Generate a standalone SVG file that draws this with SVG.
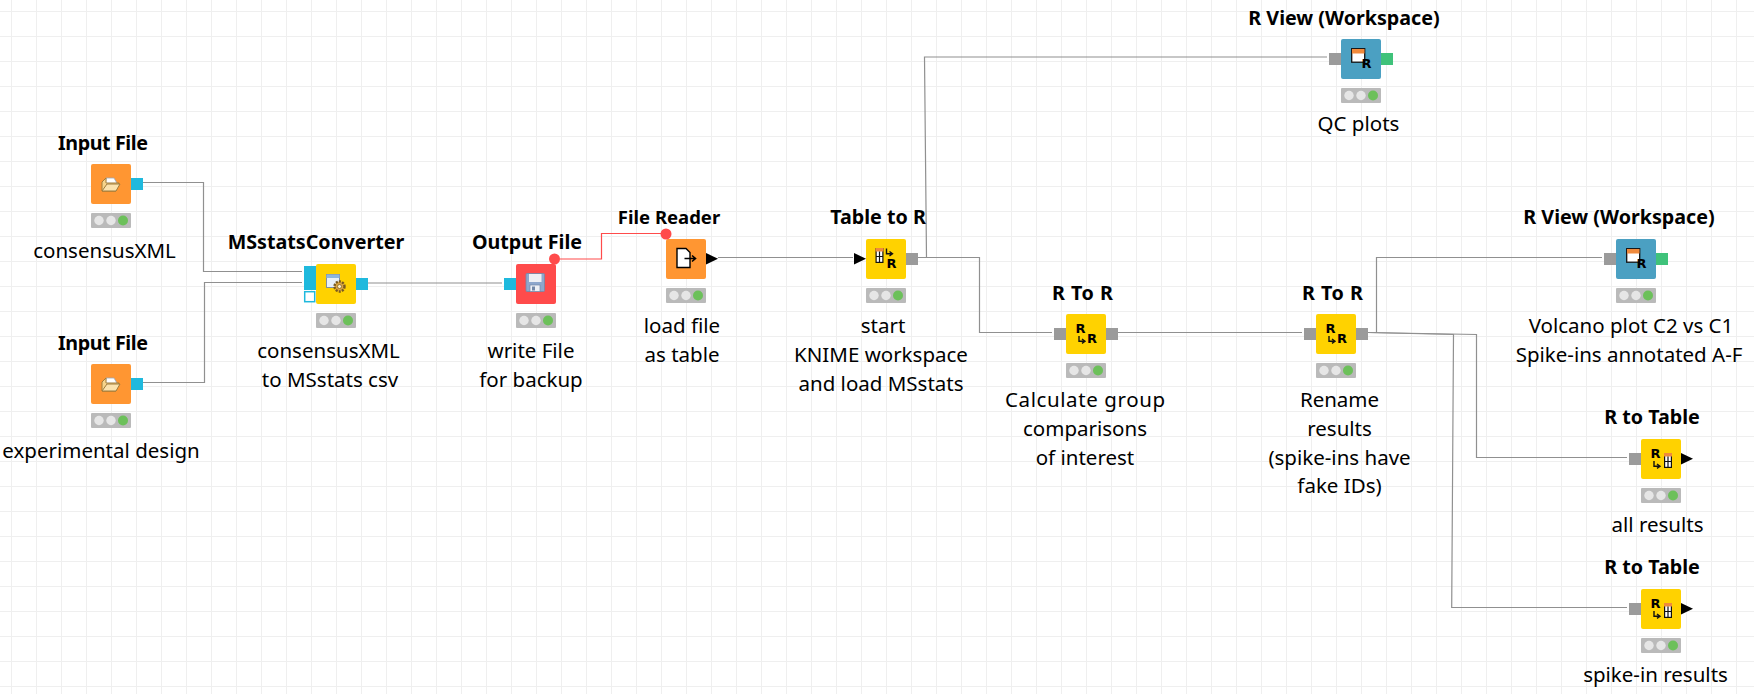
<svg xmlns="http://www.w3.org/2000/svg" width="1754" height="694" viewBox="0 0 1754 694">
<style>
text{font-family:"Noto Sans","Open Sans","Liberation Sans",sans-serif;fill:#000;text-anchor:middle}
.n{font-size:19.700px;font-weight:700}
.d{font-size:20.500px}
text.ic{font-family:"DejaVu Sans",sans-serif;font-size:13px;font-weight:700;text-anchor:start}
.y{fill:#ffd200}.o{fill:#ff9632}.r{fill:#ff4b4b}.b{fill:#4ba0c2}
.pc{fill:#1fb9dd}.pg{fill:#9b9b9b}.pv{fill:#3fc27a}.ph{fill:#fff;stroke:#1fb9dd;stroke-width:1.5}
.w{fill:none;stroke:#909090;stroke-width:1.2}
.wr{fill:none;stroke:#ff4b4b;stroke-width:1.2}
.i{fill:none;stroke:#111;stroke-width:1.2}
</style>
<defs>
<pattern id="grid" x="0" y="0" width="25" height="25" patternUnits="userSpaceOnUse"><path d="M11.5 0V25M0 11.5H25" fill="none" stroke="#efefef" stroke-width="1"/></pattern>
<g id="tl"><rect width="40" height="15" rx="1" fill="#bababa"/><circle cx="8" cy="7.500" r="4.700" fill="#e6e6e6"/><circle cx="20" cy="7.500" r="4.700" fill="#e6e6e6"/><circle cx="32" cy="7.500" r="5" fill="#6cc05a"/></g>
<path id="tri" d="M0 0L12 5.700L0 11.400Z" fill="#000"/>
<g id="folder"><path d="M15 14H23L27 21H14Z" fill="#fff" stroke="#9aa7b8" stroke-width=".8"/><path d="M11 18L15 14V19H28L25 27H11Z" fill="#f8d48a" stroke="#a07c3c" stroke-width="1"/><path d="M11 27L16 20H29L25 27Z" fill="#fbe2ad" stroke="#a07c3c" stroke-width="1"/></g>
<g id="floppy"><rect x="10" y="9.500" width="18.500" height="18" rx="1" fill="#8ea7cc" stroke="#7388a8" stroke-width=".8"/><rect x="13" y="10" width="12.500" height="8" fill="#eef0f4"/><rect x="14" y="21" width="10" height="6.500" fill="#eef0f4" stroke="#7388a8" stroke-width=".7"/><rect x="16" y="22.500" width="3" height="4" fill="#7388a8"/></g>
<g id="doc"><path d="M11 9.500H20L24 13.500V28.500H11Z" fill="#fff" stroke="#000" stroke-width="1.400"/><path d="M18.500 19.500H29M26 16.500L29.500 19.500L26 22.500" fill="none" stroke="#000" stroke-width="1.600"/></g>
<g id="conf"><rect x="10.500" y="10.500" width="13" height="13" fill="#e8f0fa" stroke="#7f8ea3" stroke-width="1"/><rect x="10.500" y="10.500" width="13" height="3.500" fill="#8db6e0"/><circle cx="23.500" cy="22.500" r="5" fill="#d9a441" stroke="#7a5a1e" stroke-width="2.400" stroke-dasharray="2 1.200"/><circle cx="23.500" cy="22.500" r="2" fill="#fff0c8" stroke="#7a5a1e" stroke-width=".7"/></g>
<g id="tbl"><rect x=".6" y=".6" width="6.800" height="13.800" fill="#fff" stroke="#111" stroke-width="1.200"/><rect x="0" y="0" width="8" height="3.500" fill="#f08a3c"/><path d="M.6 8.500H7.400M4 3.500V14.500" class="i"/></g>
<g id="arr"><path d="M1.500 0V5.200H6.500M4.500 3L7.500 5.200L4.500 7.400" fill="none" stroke="#111" stroke-width="1.400"/></g>
</defs>
<rect width="1754" height="694" fill="#fff"/>
<rect width="1754" height="694" fill="url(#grid)"/>

<g id="connectors">
<polyline class="w" points="143,182.500 203.500,182.500 203.500,271.500 302,271.500"/>
<polyline class="w" points="143,382.500 204.500,382.500 204.500,282.500 302,282.500"/>
<polyline class="w" points="368,283 502,283"/>
<polyline class="wr" points="560,259 601.500,259 601.500,233.500 661,233.500"/>
<polyline class="w" points="718,257.500 853,257.500"/>
<polyline class="w" points="918,257.500 979.500,257.500 979.500,332.500 1052,332.500"/>
<polyline class="w" points="926.500,257.500 924.500,57 1327,57"/>
<polyline class="w" points="1118,332.500 1302,332.500"/>
<polyline class="w" points="1368,332.500 1376.500,332.500 1376.500,257.500 1602,257.500"/>
<polyline class="w" points="1368,332.500 1476.500,334.500 1476.500,457.500 1627,457.500"/>
<polyline class="w" points="1368,332.500 1453.500,334.500 1451.700,607.500 1627,607.500"/>
</g>

<g id="input1">
<rect class="o" x="91" y="164" width="40" height="40" rx="2"/><use href="#folder" x="91" y="164"/>
<rect class="pc" x="131" y="178" width="12" height="12"/><use href="#tl" x="91" y="213"/>
<text class="n" x="103" y="149.500" textLength="90">Input File</text><text class="d" x="104.500" y="258">consensusXML</text>
</g>
<g id="input2">
<rect class="o" x="91" y="364" width="40" height="40" rx="2"/><use href="#folder" x="91" y="364"/>
<rect class="pc" x="131" y="378" width="12" height="12"/><use href="#tl" x="91" y="413"/>
<text class="n" x="103" y="349.500" textLength="90">Input File</text><text class="d" x="101" y="458">experimental design</text>
</g>
<g id="msstats">
<rect class="pc" x="304" y="266" width="12" height="12"/><rect class="pc" x="304" y="278" width="12" height="12"/><rect class="ph" x="304.700" y="291.700" width="10" height="10"/>
<rect class="y" x="316" y="264" width="40" height="40" rx="2"/><use href="#conf" x="316" y="264"/>
<rect class="pc" x="356" y="278" width="12" height="12"/><use href="#tl" x="316" y="313"/>
<text class="n" x="316" y="249">MSstatsConverter</text><text class="d" x="328.500" y="358">consensusXML</text><text class="d" x="330" y="387">to MSstats csv</text>
</g>
<g id="output">
<rect class="pc" x="504" y="278" width="12" height="12"/>
<rect class="r" x="516" y="264" width="40" height="40" rx="2"/><use href="#floppy" x="516" y="264"/><use href="#tl" x="516" y="313"/>
<circle cx="554.500" cy="259" r="5.500" fill="#ff4b4b"/>
<text class="n" x="527" y="249">Output File</text><text class="d" x="531" y="358">write File</text><text class="d" x="531" y="387">for backup</text>
</g>
<g id="reader">
<rect class="o" x="666" y="239" width="40" height="40" rx="2"/><use href="#doc" x="666" y="239"/>
<use href="#tri" x="706" y="253"/><use href="#tl" x="666" y="288"/>
<circle cx="666" cy="234" r="5.500" fill="#ff4b4b"/>
<text class="n" x="669" y="224" font-size="18.500" style="font-size:18.500px">File Reader</text><text class="d" x="682" y="333">load file</text><text class="d" x="682" y="362">as table</text>
</g>
<g id="tabletor">
<use href="#tri" x="854" y="253"/>
<rect class="y" x="866" y="239" width="40" height="40" rx="2"/><use href="#tbl" x="875.500" y="248"/><use href="#arr" x="885" y="248.500"/><text class="ic" x="886.500" y="268">R</text>
<rect class="pg" x="906" y="253" width="12" height="12"/><use href="#tl" x="866" y="288"/>
<text class="n" x="878" y="224">Table to R</text><text class="d" x="883" y="333">start</text><text class="d" x="881" y="362">KNIME workspace</text><text class="d" x="881" y="391">and load MSstats</text>
</g>
<g id="rtor1">
<rect class="pg" x="1054" y="328" width="12" height="12"/>
<rect class="y" x="1066" y="314" width="40" height="40" rx="2"/><text class="ic" x="1075.500" y="333">R</text><use href="#arr" x="1077.500" y="336"/><text class="ic" x="1087" y="343">R</text>
<rect class="pg" x="1106" y="328" width="12" height="12"/><use href="#tl" x="1066" y="363"/>
<text class="n" x="1082.500" y="300" textLength="61">R To R</text><text class="d" x="1085" y="407" textLength="160">Calculate group</text><text class="d" x="1085" y="436">comparisons</text><text class="d" x="1085" y="464.500">of interest</text>
</g>
<g id="rtor2">
<rect class="pg" x="1304" y="328" width="12" height="12"/>
<rect class="y" x="1316" y="314" width="40" height="40" rx="2"/><text class="ic" x="1325.500" y="333">R</text><use href="#arr" x="1327.500" y="336"/><text class="ic" x="1337" y="343">R</text>
<rect class="pg" x="1356" y="328" width="12" height="12"/><use href="#tl" x="1316" y="363"/>
<text class="n" x="1332.500" y="300" textLength="61">R To R</text><text class="d" x="1339.500" y="407">Rename</text><text class="d" x="1339.500" y="436">results</text><text class="d" x="1339.500" y="464.500">(spike-ins have</text><text class="d" x="1339.500" y="493">fake IDs)</text>
</g>
<g id="rview1">
<rect class="pg" x="1329" y="53" width="12" height="12"/>
<rect class="b" x="1341" y="39" width="40" height="40" rx="2"/><rect x="1351.700" y="48.700" width="13" height="13.500" fill="#fff" stroke="#111" stroke-width="1.300"/><rect x="1352" y="49" width="12.500" height="4.500" fill="#f08a3c"/><text class="ic" x="1361.500" y="68">R</text>
<rect class="pv" x="1381" y="53" width="12" height="12"/><use href="#tl" x="1341" y="88"/>
<text class="n" x="1344" y="25">R View (Workspace)</text><text class="d" x="1358.500" y="131">QC plots</text>
</g>
<g id="rview2">
<rect class="pg" x="1604" y="253" width="12" height="12"/>
<rect class="b" x="1616" y="239" width="40" height="40" rx="2"/><rect x="1626.700" y="248.700" width="13" height="13.500" fill="#fff" stroke="#111" stroke-width="1.300"/><rect x="1627" y="249" width="12.500" height="4.500" fill="#f08a3c"/><text class="ic" x="1636.500" y="268">R</text>
<rect class="pv" x="1656" y="253" width="12" height="12"/><use href="#tl" x="1616" y="288"/>
<text class="n" x="1619" y="224">R View (Workspace)</text><text class="d" x="1631" y="333">Volcano plot C2 vs C1</text><text class="d" x="1629" y="362">Spike-ins annotated A-F</text>
</g>
<g id="rtotable1">
<rect class="pg" x="1629" y="453" width="12" height="12"/>
<rect class="y" x="1641" y="439" width="40" height="40" rx="2"/><text class="ic" x="1650.500" y="458">R</text><use href="#arr" x="1652.500" y="461"/><use href="#tbl" x="1664" y="453"/>
<use href="#tri" x="1681" y="453"/><use href="#tl" x="1641" y="488"/>
<text class="n" x="1652" y="424">R to Table</text><text class="d" x="1657.500" y="532">all results</text>
</g>
<g id="rtotable2">
<rect class="pg" x="1629" y="603" width="12" height="12"/>
<rect class="y" x="1641" y="589" width="40" height="40" rx="2"/><text class="ic" x="1650.500" y="608">R</text><use href="#arr" x="1652.500" y="611"/><use href="#tbl" x="1664" y="603"/>
<use href="#tri" x="1681" y="603"/><use href="#tl" x="1641" y="638"/>
<text class="n" x="1652" y="574">R to Table</text><text class="d" x="1655.500" y="682">spike-in results</text>
</g>
</svg>
